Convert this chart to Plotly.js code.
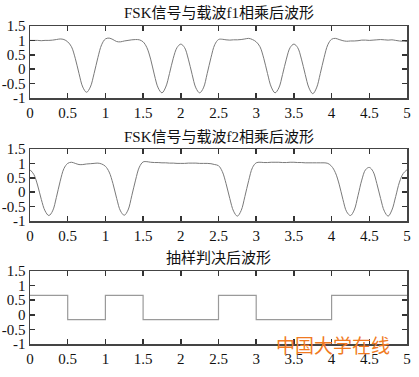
<!DOCTYPE html>
<html>
<head>
<meta charset="utf-8">
<script src="https://cdn.plot.ly/plotly-3.0.1.min.js"></script>
<style>
html,body{margin:0;padding:0;background:#fff;}
#chart{width:419px;height:377px;}
</style>
</head>
<body>
<div id="chart"></div>
<script>
// ---- data ----
const titles = ["FSK信号与载波f1相乘后波形", "FSK信号与载波f2相乘后波形", "抽样判决后波形"];
const watermark = "中国大学在线";

const tCurve = [0,0.05,0.1,0.15,0.2,0.25,0.3,0.35,0.4,0.45,0.5,0.55,0.6,0.65,0.7,0.75,0.8,0.85,0.9,0.95,
  1,1.05,1.1,1.15,1.2,1.25,1.3,1.35,1.4,1.45,1.5,1.55,1.6,1.65,1.7,1.75,1.8,1.85,1.9,1.95,
  2,2.05,2.1,2.15,2.2,2.25,2.3,2.35,2.4,2.45,2.5,2.55,2.6,2.65,2.7,2.75,2.8,2.85,2.9,2.95,
  3,3.05,3.1,3.15,3.2,3.25,3.3,3.35,3.4,3.45,3.5,3.55,3.6,3.65,3.7,3.75,3.8,3.85,3.9,3.95,
  4,4.05,4.1,4.15,4.2,4.25,4.3,4.35,4.4,4.45,4.5,4.55,4.6,4.65,4.7,4.75,4.8,4.85,4.9,4.95,5];

const f1Product = [1.00,1.00,1.00,0.99,1.00,1.00,1.01,1.03,1.05,1.03,0.95,0.78,0.38,-0.15,-0.62,-0.80,-0.62,-0.15,0.40,0.85,
  1.05,1.08,1.03,0.96,0.95,0.98,1.00,1.02,1.03,1.02,0.95,0.75,0.35,-0.20,-0.65,-0.82,-0.62,-0.15,0.38,0.75,
  0.87,0.75,0.35,-0.18,-0.65,-0.82,-0.65,-0.15,0.40,0.85,1.03,1.04,1.02,1.01,1.02,1.02,1.03,1.05,1.07,1.03,
  0.95,0.78,0.38,-0.15,-0.62,-0.82,-0.65,-0.18,0.35,0.75,0.87,0.75,0.35,-0.18,-0.65,-0.85,-0.65,-0.15,0.40,0.85,
  1.04,1.07,1.03,0.99,0.97,0.98,0.98,0.99,1.01,1.01,1.00,1.01,1.02,1.03,1.02,1.01,1.02,1.00,0.98,0.97,0.96];

const f2Product = [0.78,0.62,0.25,-0.25,-0.65,-0.81,-0.65,-0.18,0.38,0.82,1.00,1.04,1.00,0.96,0.96,0.98,0.99,1.00,1.01,0.98,
  0.90,0.70,0.30,-0.22,-0.65,-0.80,-0.62,-0.12,0.42,0.87,1.05,1.06,1.04,1.03,1.03,1.02,1.02,1.01,1.01,1.00,
  1.00,1.00,1.01,1.01,1.01,1.00,1.00,1.00,0.99,0.96,0.92,0.72,0.30,-0.22,-0.66,-0.83,-0.64,-0.15,0.40,0.85,
  1.02,1.04,1.03,1.03,1.04,1.04,1.04,1.03,1.03,1.04,1.04,1.03,1.03,1.02,1.02,1.02,1.02,1.02,1.02,1.00,
  0.90,0.68,0.28,-0.25,-0.68,-0.81,-0.62,-0.12,0.42,0.78,0.86,0.72,0.30,-0.22,-0.66,-0.83,-0.62,-0.15,0.35,0.65,0.78];

const tSample = [0,0.5,1,1.5,2,2.5,3,3.5,4,4.5,5];
const decision = [0.667,-0.167,0.667,-0.167,-0.167,0.667,-0.167,-0.167,0.667,0.667,0.667];

const xTickVals = [0,0.5,1,1.5,2,2.5,3,3.5,4,4.5,5];
const xTickText = ["0","0.5","1","1.5","2","2.5","3","3.5","4","4.5","5"];
const yTickVals = [-1,-0.5,0,0.5,1,1.5];
const yTickText = ["-1","-0.5","0","0.5","1","1.5"];

// ---- chart ----
const FONT = 'Liberation Serif, DejaVu Serif, serif';
const TITLEFONT = 'Liberation Serif, Noto Sans CJK SC, serif';
const curveColor = '#7a7a7a';

const traces = [
  {x: tCurve, y: f1Product, xaxis:'x', yaxis:'y', mode:'lines', line:{color:curveColor, width:1, shape:'spline', smoothing:1}},
  {x: tCurve, y: f2Product, xaxis:'x2', yaxis:'y2', mode:'lines', line:{color:curveColor, width:1, shape:'spline', smoothing:1}},
  {x: tSample, y: decision, xaxis:'x3', yaxis:'y3', mode:'lines', line:{color:'#9a9a9a', width:1.2, shape:'hv'}}
];

function xa(anchor){
  return {anchor: anchor, range:[0,5], tickvals:xTickVals, ticktext:xTickText, ticks:'inside', ticklen:5, tickwidth:1.5,
    tickcolor:'#333', showline:true, linecolor:'#444', linewidth:1.5, mirror:'ticks', showgrid:false, zeroline:false,
    tickfont:{family:FONT, size:15, color:'#111'}, fixedrange:true};
}
function ya(anchor, domain){
  return {anchor: anchor, domain: domain, range:[-1,1.5], tickvals:yTickVals, ticktext:yTickText, ticks:'inside', ticklen:5, tickwidth:1.5,
    tickcolor:'#333', showline:true, linecolor:'#444', linewidth:1.5, mirror:'ticks', showgrid:false, zeroline:false,
    tickfont:{family:FONT, size:15, color:'#111'}, fixedrange:true};
}

const H = 377;
function dom(top, bottom){ return [1 - bottom/H, 1 - top/H]; }

const layout = {
  width:419, height:377,
  margin:{l:30, r:12, t:0, b:0},
  paper_bgcolor:'#fff', plot_bgcolor:'#fff',
  showlegend:false,
  font:{family:FONT, color:'#111'},
  xaxis: xa('y'),
  yaxis: ya('x', dom(26, 98)),
  xaxis2: xa('y2'),
  yaxis2: ya('x2', dom(149, 221)),
  xaxis3: xa('y3'),
  yaxis3: ya('x3', dom(271, 344)),
  annotations: [
    {text: titles[0], xref:'paper', yref:'paper', x:0.5, y:1-13/H, xanchor:'center', yanchor:'middle', showarrow:false, font:{family:TITLEFONT, size:15, color:'#111'}},
    {text: titles[1], xref:'paper', yref:'paper', x:0.5, y:1-137/H, xanchor:'center', yanchor:'middle', showarrow:false, font:{family:TITLEFONT, size:15, color:'#111'}},
    {text: titles[2], xref:'paper', yref:'paper', x:0.5, y:1-258/H, xanchor:'center', yanchor:'middle', showarrow:false, font:{family:TITLEFONT, size:15, color:'#111'}},
    {text: watermark, xref:'paper', yref:'paper', x:(333-30)/377, y:1-344/H, xanchor:'center', yanchor:'middle', showarrow:false, font:{family:'Noto Sans CJK SC, sans-serif', size:19, color:'#F07A22'}}
  ]
};

Plotly.newPlot('chart', traces, layout, {staticPlot:true, displayModeBar:false});
</script>
</body>
</html>
